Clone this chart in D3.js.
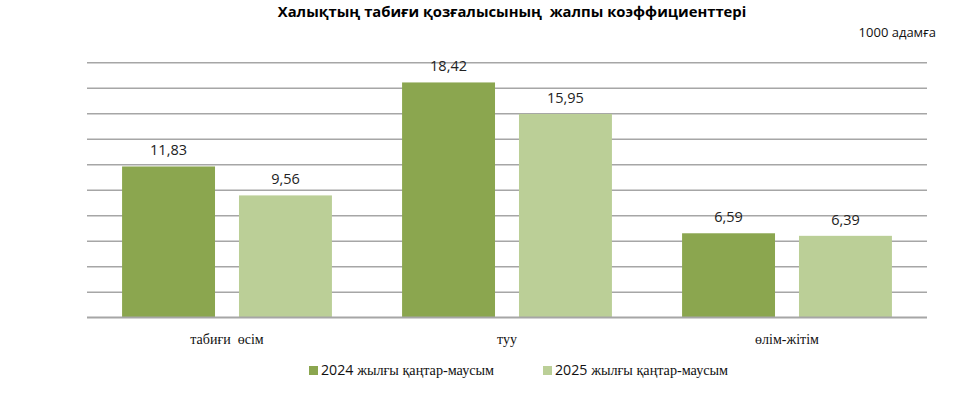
<!DOCTYPE html>
<html><head><meta charset="utf-8">
<script src="https://cdn.jsdelivr.net/npm/d3@7"></script>
<style>
html,body{margin:0;padding:0;background:#fff;}
svg text{white-space:pre;}
</style></head>
<body>
<svg id="c" width="973" height="397"></svg>
<script>
const categories = ["табиғи  өсім", "туу", "өлім-жітім"];
const seriesNames = ["2024 жылғы қаңтар-маусым", "2025 жылғы қаңтар-маусым"];
const values2024 = [11.83, 18.42, 6.59];
const values2025 = [9.56, 15.95, 6.39];
const valueLabels2024 = ["11,83", "18,42", "6,59"];
const valueLabels2025 = ["9,56", "15,95", "6,39"];
const gridTicks = [0, 2, 4, 6, 8, 10, 12, 14, 16, 18, 20];
const titleText = "Халықтың табиғи қозғалысының  жалпы коэффициенттері";
const unitText = "1000 адамға";

const colors = ["#8ba64f", "#bbcf97"];
const svg = d3.select("#c");
const plotLeft = 87, plotRight = 927, plotTop = 62.3, plotBottom = 317.3;

const x0 = d3.scaleBand().domain(categories).range([plotLeft, plotRight]).padding(0);
const x1 = d3.scaleBand().domain(seriesNames).range([0, x0.bandwidth()]).paddingInner(0.205).paddingOuter(0.3);
const y = d3.scaleLinear().domain([0, 20]).range([plotBottom, plotTop]);

// gridlines
const yAxis = d3.axisLeft(y).tickValues(gridTicks).tickSize(-(plotRight - plotLeft)).tickFormat("");
const g = svg.append("g").attr("transform", `translate(${plotLeft},0)`).call(yAxis);
g.select(".domain").remove();
g.selectAll(".tick line").attr("stroke", "#a6a6a6").attr("stroke-width", 1.5);

const data = categories.map((c, i) => ({
  cat: c,
  vals: [
    {s: seriesNames[0], v: values2024[i], lab: valueLabels2024[i], col: colors[0]},
    {s: seriesNames[1], v: values2025[i], lab: valueLabels2025[i], col: colors[1]}
  ]
}));

const groups = svg.selectAll(".grp").data(data).join("g")
  .attr("transform", d => `translate(${x0(d.cat)},0)`);
groups.selectAll("rect").data(d => d.vals).join("rect")
  .attr("x", d => x1(d.s)).attr("width", x1.bandwidth())
  .attr("y", d => y(d.v)).attr("height", d => y(0) - y(d.v))
  .attr("fill", d => d.col);
groups.selectAll("text").data(d => d.vals).join("text")
  .attr("x", d => x1(d.s) + x1.bandwidth() / 2)
  .attr("y", d => y(d.v) - 11)
  .attr("text-anchor", "middle")
  .attr("font-family", "'Open Sans', sans-serif").attr("font-size", 14.5)
  .attr("fill", "#222").text(d => d.lab);

// baseline
svg.append("line").attr("x1", plotLeft).attr("x2", plotRight).attr("y1", y(0)).attr("y2", y(0))
  .attr("stroke", "#a6a6a6").attr("stroke-width", 1.5);

// category labels
svg.selectAll(".cat").data(categories).join("text")
  .attr("x", d => x0(d) + x0.bandwidth() / 2).attr("y", 344)
  .attr("text-anchor", "middle")
  .attr("font-family", "'Liberation Serif', 'DejaVu Serif', serif").attr("font-size", 14)
  .attr("fill", "#111").text(d => d);

// title
svg.append("text").attr("x", 512).attr("y", 17).attr("text-anchor", "middle")
  .attr("font-family", "'Open Sans', sans-serif").attr("font-weight", "bold").attr("font-size", 14.8)
  .attr("fill", "#000").text(titleText);

// unit
svg.append("text").attr("x", 936).attr("y", 37).attr("text-anchor", "end")
  .attr("font-family", "'Open Sans', sans-serif").attr("font-size", 13)
  .attr("fill", "#111").text(unitText);

// legend
const legX = [309, 543];
seriesNames.forEach((s, i) => {
  svg.append("rect").attr("x", legX[i]).attr("y", 366).attr("width", 9).attr("height", 9).attr("fill", colors[i]);
  const parts = s.split(" ");
  const t = svg.append("text").attr("x", legX[i] + 12).attr("y", 375).attr("fill", "#111").attr("font-size", 14.2);
  t.append("tspan").attr("font-family", "'Open Sans', sans-serif").text(parts[0] + " ");
  t.append("tspan").attr("font-family", "'Liberation Serif', serif").text(parts.slice(1).join(" "));
});
</script>
</body></html>
